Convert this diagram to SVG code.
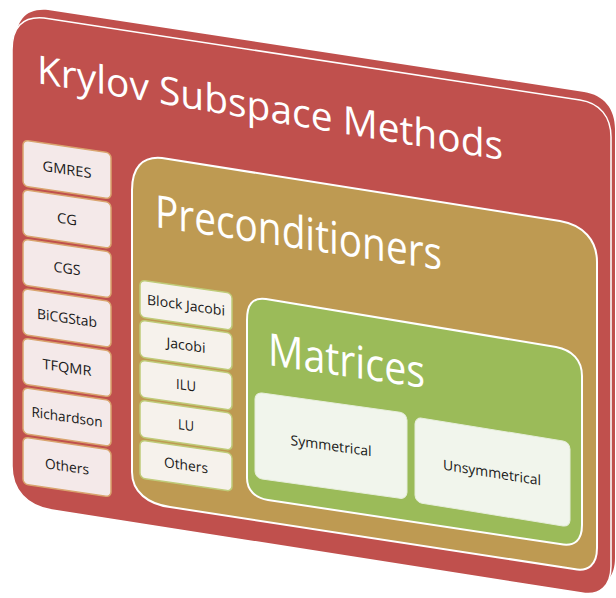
<svg xmlns="http://www.w3.org/2000/svg" width="616" height="598" viewBox="0 0 616 598">
  <style>
    .title { font-family: "Open Sans", "Liberation Sans", sans-serif; fill: #ffffff; }
    .item text { font-family: "Open Sans", "Liberation Sans", sans-serif; font-size: 14px; fill: #1a1a1a; text-anchor: middle; }
    .ri { fill: #F4E9E9; stroke: #D9A46E; stroke-width: 1.5; }
    .ti { fill: #F6F2EC; stroke: #BFCB78; stroke-width: 1.5; }
    .gi { fill: #F1F5EC; stroke: #E6EEDB; stroke-width: 1; }
  </style>
  <rect width="616" height="598" fill="#ffffff"/>

  <g id="krylov">
    <path transform="translate(4,-8)" d="M 12 50 C 12 28, 22 16, 44 18 L 580 100 C 600 103, 611 117, 611 137 L 611 566 C 611 586, 600 596, 582 593 L 52 510 C 27 506, 12 490, 12 466 Z" fill="#C0504D"/>
    <path d="M 12 50 C 12 28, 22 16, 44 18 L 580 100 C 600 103, 611 117, 611 137 L 611 566 C 611 586, 600 596, 582 593 L 52 510 C 27 506, 12 490, 12 466 Z" fill="#C0504D" stroke="#ffffff" stroke-width="1.5"/>
    <text class="title" transform="translate(37,83) skewY(9.4)" font-size="39" textLength="466" lengthAdjust="spacingAndGlyphs">Krylov Subspace Methods</text>
  </g>

  <g id="krylov-items" class="item">
    <g id="gmres" transform="matrix(1,0.148,0,1,23,140)"><rect class="ri" width="88" height="46" rx="5"/><text x="44" y="28" textLength="49" lengthAdjust="spacingAndGlyphs">GMRES</text></g>
    <g id="cg" transform="matrix(1,0.148,0,1,23,189.5)"><rect class="ri" width="88" height="46" rx="5"/><text x="44" y="28" textLength="20" lengthAdjust="spacingAndGlyphs">CG</text></g>
    <g id="cgs" transform="matrix(1,0.148,0,1,23,239)"><rect class="ri" width="88" height="46" rx="5"/><text x="44" y="28" textLength="27" lengthAdjust="spacingAndGlyphs">CGS</text></g>
    <g id="bicgstab" transform="matrix(1,0.148,0,1,23,288.5)"><rect class="ri" width="88" height="46" rx="5"/><text x="44" y="28" textLength="60" lengthAdjust="spacingAndGlyphs">BiCGStab</text></g>
    <g id="tfqmr" transform="matrix(1,0.148,0,1,23,338)"><rect class="ri" width="88" height="46" rx="5"/><text x="44" y="28" textLength="49" lengthAdjust="spacingAndGlyphs">TFQMR</text></g>
    <g id="richardson" transform="matrix(1,0.148,0,1,23,387.5)"><rect class="ri" width="88" height="46" rx="5"/><text x="44" y="28" textLength="71" lengthAdjust="spacingAndGlyphs">Richardson</text></g>
    <g id="krylov-others" transform="matrix(1,0.148,0,1,23,437)"><rect class="ri" width="88" height="47" rx="5"/><text x="44" y="28" textLength="44" lengthAdjust="spacingAndGlyphs">Others</text></g>
  </g>

  <g id="preconditioners">
    <path d="M 132 190 C 132 168, 142 156, 162 158 L 560 221 C 583 225, 597 240, 597 262 L 597 548 C 597 565, 588 572, 574 569 L 170 507 C 148 504, 132 492, 132 472 Z" fill="#BE9A52" stroke="#ffffff" stroke-width="2"/>
    <text class="title" transform="translate(155,227) skewY(8.5)" font-size="45" textLength="287" lengthAdjust="spacingAndGlyphs">Preconditioners</text>
  </g>

  <g id="precond-items" class="item">
    <g id="block-jacobi" transform="matrix(1,0.145,0,1,140,280)"><rect class="ti" width="92" height="37" rx="5"/><text x="46" y="23.5" textLength="78" lengthAdjust="spacingAndGlyphs">Block Jacobi</text></g>
    <g id="jacobi" transform="matrix(1,0.145,0,1,140,320)"><rect class="ti" width="92" height="37" rx="5"/><text x="46" y="23.5" textLength="39" lengthAdjust="spacingAndGlyphs">Jacobi</text></g>
    <g id="ilu" transform="matrix(1,0.145,0,1,140,360)"><rect class="ti" width="92" height="37" rx="5"/><text x="46" y="23.5" textLength="20" lengthAdjust="spacingAndGlyphs">ILU</text></g>
    <g id="lu" transform="matrix(1,0.145,0,1,140,400)"><rect class="ti" width="92" height="37" rx="5"/><text x="46" y="23.5" textLength="16" lengthAdjust="spacingAndGlyphs">LU</text></g>
    <g id="precond-others" transform="matrix(1,0.145,0,1,140,440)"><rect class="ti" width="92" height="38" rx="5"/><text x="46" y="23.5" textLength="44" lengthAdjust="spacingAndGlyphs">Others</text></g>
  </g>

  <g id="matrices">
    <path d="M 247 320 C 247 305, 252 297, 266 299 L 556 347 C 572 350, 582 360, 582 376 L 582 525 C 582 540, 575 547, 560 544 L 268 500 C 255 498, 247 490, 247 478 Z" fill="#9BBB59" stroke="#ffffff" stroke-width="2"/>
    <text class="title" transform="translate(268,365) skewY(8.3)" font-size="45" textLength="157" lengthAdjust="spacingAndGlyphs">Matrices</text>
  </g>

  <g id="matrix-items" class="item">
    <g id="symmetrical" transform="matrix(1,0.14,0,1,255,392)"><rect class="gi" width="152" height="86" rx="7"/><text x="76" y="48" textLength="81" lengthAdjust="spacingAndGlyphs">Symmetrical</text></g>
    <g id="unsymmetrical" transform="matrix(1,0.162,0,1,415,417)"><rect class="gi" width="155" height="85" rx="7"/><text x="77" y="48" textLength="98" lengthAdjust="spacingAndGlyphs">Unsymmetrical</text></g>
  </g>

  <g id="connectors"></g>
</svg>
